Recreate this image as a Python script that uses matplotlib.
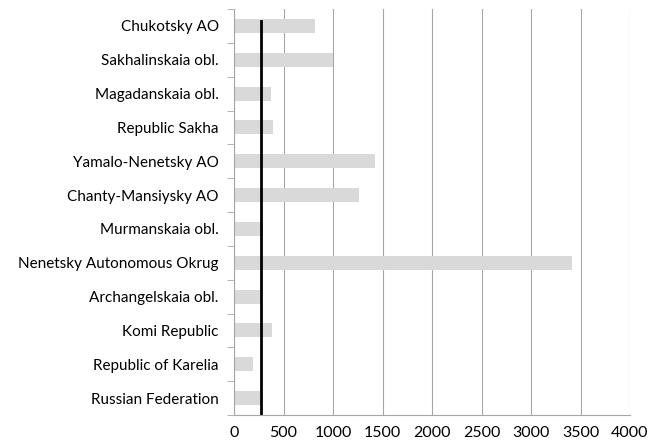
import matplotlib.pyplot as plt

# regions, bottom to top as drawn
regioes = ['Russian Federation', 'Republic of Karelia', 'Komi Republic',
           'Archangelskaia obl.', 'Nenetsky Autonomous Okrug', 'Murmanskaia obl.',
           'Chanty-Mansiysky AO', 'Yamalo-Nenetsky AO', 'Republic Sakha',
           'Magadanskaia obl.', 'Sakhalinskaia obl.', 'Chukotsky AO']
valores = [265, 192, 387, 273, 3411, 290, 1260, 1427, 394, 370, 995, 815]
nivel_rf = 272  # reference line (Russian Federation level)
xticks = [0, 500, 1000, 1500, 2000, 2500, 3000, 3500, 4000]

plt.rcParams['font.family'] = ['Lato', 'DejaVu Sans']

fig = plt.figure(figsize=(6.58, 4.47), dpi=100)
ax = fig.add_axes([234 / 658, 1 - 415 / 447, (630 - 234) / 658, (415 - 9) / 447])

pos = list(range(len(regioes)))
ax.barh(pos, valores, height=0.41, color='#d9d9d9', zorder=2)
ax.plot([nivel_rf, nivel_rf], [-0.5, 11.15], color='black', linewidth=2, zorder=3)

ax.set_xlim(0, 4000)
ax.set_ylim(-0.5, len(regioes) - 0.5)
ax.set_xticks(xticks)
ax.set_xticklabels([str(v) for v in xticks], fontsize=11.5)
ax.set_yticks(pos)
ax.set_yticklabels(regioes, fontsize=11)

# category boundary ticks on the left axis
ax.set_yticks([p - 0.5 for p in pos] + [len(regioes) - 0.5], minor=True)
ax.tick_params(axis='y', which='major', length=0, pad=11)
ax.tick_params(axis='y', which='minor', length=5, color='#a6a6a6')
ax.tick_params(axis='x', length=0, pad=8)

ax.grid(axis='x', color='#a6a6a6', linewidth=0.8, zorder=1)
for s in ['top', 'right']:
    ax.spines[s].set_visible(False)
for s in ['left', 'bottom']:
    ax.spines[s].set_color('#a6a6a6')

plt.savefig('out.png', dpi=100)
